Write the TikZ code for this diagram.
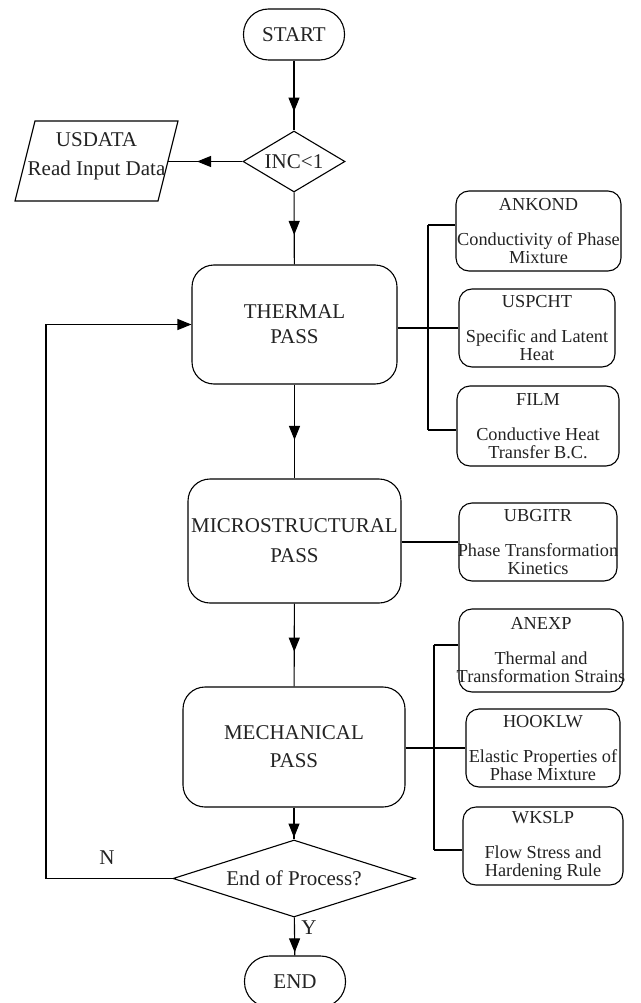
\documentclass[tikz,border=0pt]{standalone}
\usepackage{fontspec}
\setmainfont{Liberation Serif}
\usetikzlibrary{shapes.geometric,arrows.meta,decorations.markings}
\definecolor{txt}{RGB}{35,35,35}
\newcommand{\mainfnt}{\fontsize{21}{25}\selectfont}
\newcommand{\sidefnt}{\fontsize{18.3}{18}\selectfont}
\tikzset{
  ln/.style={line width=1.1pt, draw=black},
  mainbox/.style={ln, rectangle, rounded corners=22pt, align=center, font=\mainfnt, text=txt, inner sep=0pt},
  sidebox/.style={ln, rectangle, rounded corners=13pt, align=center, font=\sidefnt, text=txt, inner sep=0pt},
  term/.style={ln, rectangle, rounded corners=25pt, minimum width=101pt, minimum height=51pt, font=\mainfnt, text=txt, inner sep=0pt},
  dec/.style={ln, diamond, inner sep=0pt, font=\mainfnt, text=txt},
  lbl/.style={font=\mainfnt, text=txt, inner sep=0pt},
  flow/.style={ln, postaction={decorate}, decoration={markings, mark=at position #1 with {\arrow{Triangle[length=14pt,width=11pt]}}}},
  tip/.style={ln, -{Triangle[length=14pt,width=11pt]}},
  wire/.style={ln},
}
\begin{document}
\begin{tikzpicture}[x=1pt,y=-1pt]
\useasboundingbox[fill=white] (0,0) rectangle (640,1003);

% main column
\node[term] (start) at (294,34.5) {START};
\node[dec, aspect=1.67, minimum width=102pt, minimum height=61pt] (inc) at (294,161.5) {INC<1};
\node[mainbox, minimum width=205pt, minimum height=119pt] (thermal) at (294.5,324.5) {THERMAL\\PASS};
\node[mainbox, minimum width=213pt, minimum height=124pt] (micro) at (294.5,541) {MICROSTRUCTURAL\\[5pt]PASS};
\node[mainbox, minimum width=222pt, minimum height=120pt] (mech) at (294,747) {MECHANICAL\\[3pt]PASS};
\node[dec, aspect=3.14, minimum width=242pt, minimum height=77pt] (endq) at (294,878.5) {End of Process?};
\node[term] (stop) at (295,981.5) {END};

% input data parallelogram
\draw[ln] (35,121) -- (178,121) -- (158,201) -- (15,201) -- cycle;
\node[lbl, align=center] (usd) at (96.5,156) {USDATA\\[4pt]Read Input Data};
\coordinate (usdR) at (168,161.5);

% side boxes
\node[sidebox, minimum width=165pt, minimum height=80pt] (ank) at (538.5,231) {ANKOND\\[17pt]Conductivity of Phase\\Mixture};
\node[sidebox, minimum width=156pt, minimum height=78pt] (usp) at (537,328) {USPCHT\\[17pt]Specific and Latent\\Heat};
\node[sidebox, minimum width=162pt, minimum height=80pt] (film) at (538,426) {FILM\\[17pt]Conductive Heat\\Transfer B.C.};
\node[sidebox, minimum width=158pt, minimum height=78pt] (ubg) at (538,542) {UBGITR\\[17pt]\makebox[0pt]{Phase Transformation}\\Kinetics};
\node[sidebox, minimum width=164pt, minimum height=83pt] (anexp) at (541,650.5) {ANEXP\\[17pt]Thermal and\\\makebox[0pt]{Transformation Strains}};
\node[sidebox, minimum width=154pt, minimum height=78pt] (hook) at (543,748) {HOOKLW\\[17pt]Elastic Properties of\\Phase Mixture};
\node[sidebox, minimum width=160pt, minimum height=78pt] (wks) at (543,846) {WKSLP\\[17pt]Flow Stress and\\Hardening Rule};

% main flow
\draw[flow=0.73] (start) -- (inc);
\draw[flow=0.61] (inc.west) -- (usdR);
\draw[flow=0.59] (inc) -- (thermal);
\draw[flow=0.59] (thermal) -- (micro);
\draw[flow=0.58] (micro) -- (mech);
\draw[flow=0.94] (mech) -- (endq);
\draw[flow=0.92] (endq) -- (stop);

% feedback loop
\coordinate (lp) at (46,600);
\draw[tip] (endq.west) -- (endq.west -| lp) -- (thermal.west -| lp) -- (thermal.west);
\node[lbl] (nlab) at (107,858) {N};
\node[lbl] (ylab) at (309,928) {Y};

% thermal subroutines bracket
\coordinate (tb1) at (428,225);
\coordinate (tb2) at (428,430);
\draw[wire] (tb1) -- (tb2);
\draw[wire] (tb1) -- (tb1 -| ank.west);
\draw[wire] (tb2) -- (tb2 -| film.west);
\draw[wire] (thermal.east |- usp.west) -- (usp.west);

% microstructural
\draw[wire] (micro.east |- ubg.west) -- (ubg.west);

% mechanical bracket
\coordinate (mb1) at (434,645);
\coordinate (mb2) at (434,850);
\draw[wire] (mb1) -- (mb2);
\draw[wire] (mb1) -- (mb1 -| anexp.west);
\draw[wire] (mb2) -- (mb2 -| wks.west);
\draw[wire] (mech.east |- hook.west) -- (hook.west);
\end{tikzpicture}
\end{document}
